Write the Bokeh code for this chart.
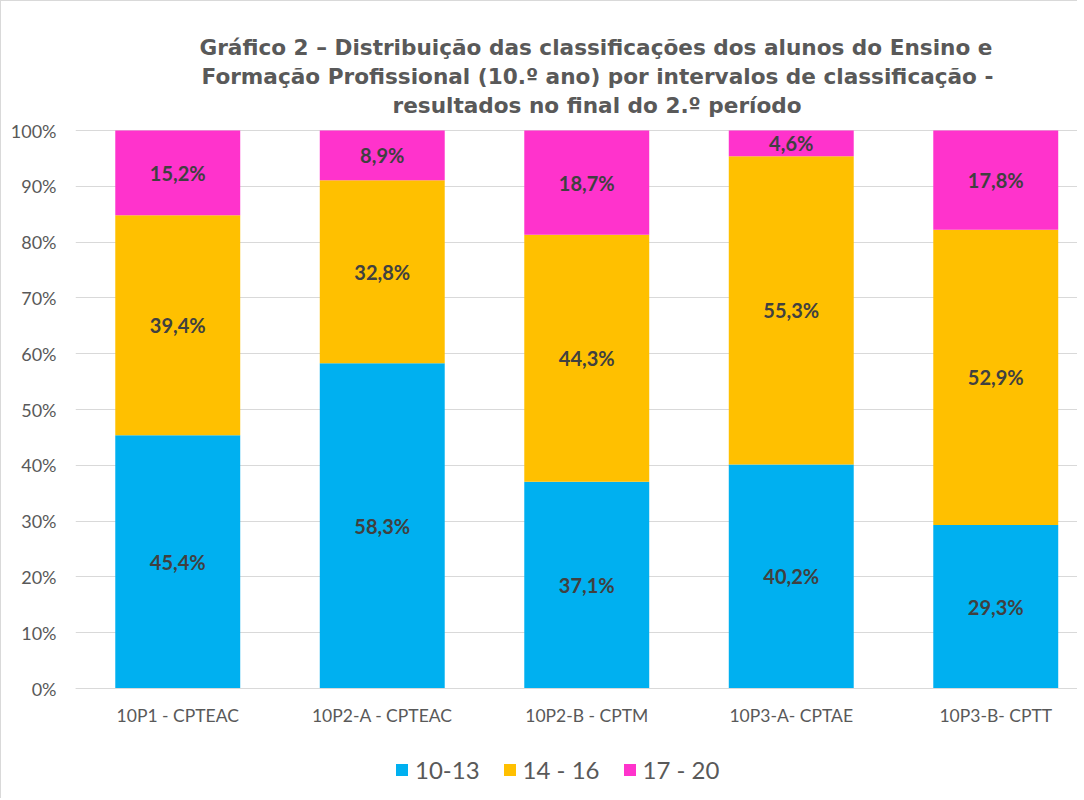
from bokeh.plotting import figure
from bokeh.models import Range1d, FixedTicker, ColumnDataSource, Legend, LegendItem, Title
from bokeh.core.properties import value
from bokeh.embed import file_html
from bokeh.resources import INLINE

title_lines = [
    "Gráfico 2 – Distribuição das classificações dos alunos do Ensino e",
    "Formação Profissional (10.º ano) por intervalos de classificação -",
    "resultados no final do 2.º período",
]
categories = ["10P1 - CPTEAC", "10P2-A - CPTEAC", "10P2-B - CPTM", "10P3-A- CPTAE", "10P3-B- CPTT"]
series_names = ["10-13", "14 - 16", "17 - 20"]
v_10_13 = [45.4, 58.3, 37.1, 40.2, 29.3]
v_14_16 = [39.4, 32.8, 44.3, 55.3, 52.9]
v_17_20 = [15.2, 8.9, 18.7, 4.6, 17.8]
colors = ["#00B0F0", "#FFC000", "#FF33CC"]
y_ticks = [0, 10, 20, 30, 40, 50, 60, 70, 80, 90, 100]

series = [v_10_13, v_14_16, v_17_20]
xs = [i + 0.5 for i in range(len(categories))]
totals = [sum(s[i] for s in series) for i in range(len(categories))]
keys = ["s0", "s1", "s2"]
data = {"x": xs}
for k, s in zip(keys, series):
    data[k] = [v / t * 100 for v, t in zip(s, totals)]
source = ColumnDataSource(data)

# layout: 5.58 px per percent; frame extends 12px above 100% and 106px below 0%
PX = 5.58
FW = 1002
FH = 676
y0 = -106 / PX
y1 = y0 + FH / PX
p = figure(output_backend="svg", toolbar_location=None,
           x_range=Range1d(0, FW / 204.5), y_range=Range1d(y0, y1))
p.frame_width = FW
p.frame_height = FH
p.title_location = None
p.min_border_left = 74
p.min_border_right = 0
p.min_border_top = 117
p.min_border_bottom = 4
p.outline_line_color = None
p.styles = {"border-left": "1px solid #d9d9d9", "border-top": "1px solid #d9d9d9"}

renderers = p.vbar_stack(keys, x="x", width=0.611, color=colors, line_color=None, source=source)

# data labels
lx, ly, lt = [], [], []
for i in range(len(categories)):
    base = 0.0
    for k, s in zip(keys, series):
        h = data[k][i]
        lx.append(xs[i])
        ly.append(base + h / 2)
        lt.append(f"{s[i]:.1f}".replace(".", ",") + "%")
        base += h
p.text(x=lx, y=ly, text=lt, text_align="center", text_baseline="middle",
       text_font=value("Lato"), text_font_style="bold", text_font_size="20px",
       text_color="#404040")

# title (one Title per line, closest to the plot first)
title_offsets = [124, 126, 317]
for line, off in reversed(list(zip(title_lines, title_offsets))):
    t = Title(text=line, align="left", offset=off, text_font="DejaVu Sans",
              text_font_size="21.6px", text_font_style="bold", text_color="#595959",
              standoff=2)
    p.add_layout(t, "above")

# axes
p.xaxis.fixed_location = 0
p.xaxis.ticker = FixedTicker(ticks=xs)
p.xaxis.major_label_overrides = {x: c for x, c in zip(xs, categories)}
p.xaxis.axis_line_color = "#d9d9d9"
p.xaxis.major_tick_line_color = None
p.xaxis.major_tick_out = 0
p.xaxis.major_tick_in = 0
p.xaxis.minor_tick_line_color = None
p.xaxis.major_label_text_font = "Lato"
p.xaxis.major_label_text_font_size = "17.5px"
p.xaxis.major_label_text_color = "#595959"
p.xaxis.major_label_standoff = 16

p.yaxis.ticker = FixedTicker(ticks=y_ticks)
p.yaxis.major_label_overrides = {t: f"{t}%" for t in y_ticks}
p.yaxis.axis_line_color = None
p.yaxis.major_tick_line_color = None
p.yaxis.major_tick_out = 0
p.yaxis.major_tick_in = 0
p.yaxis.minor_tick_line_color = None
p.yaxis.major_label_text_font = "Lato"
p.yaxis.major_label_text_font_size = "18px"
p.yaxis.major_label_text_color = "#595959"
p.yaxis.major_label_standoff = 19

p.xgrid.grid_line_color = None
p.ygrid.grid_line_color = "#d9d9d9"
p.ygrid.grid_line_width = 1

legend = Legend(items=[LegendItem(label=n, renderers=[r]) for n, r in zip(series_names, renderers)],
                orientation="horizontal", location=(319, 10))
legend.label_text_font = "Lato"
legend.label_text_font_size = "24px"
legend.label_text_color = "#595959"
legend.glyph_width = 15
legend.glyph_height = 15
legend.spacing = 22
legend.label_standoff = 6
legend.border_line_color = None
legend.background_fill_alpha = 0
legend.padding = 0
legend.margin = 0
p.add_layout(legend)

open("out.html", "w").write(file_html(p, INLINE))
